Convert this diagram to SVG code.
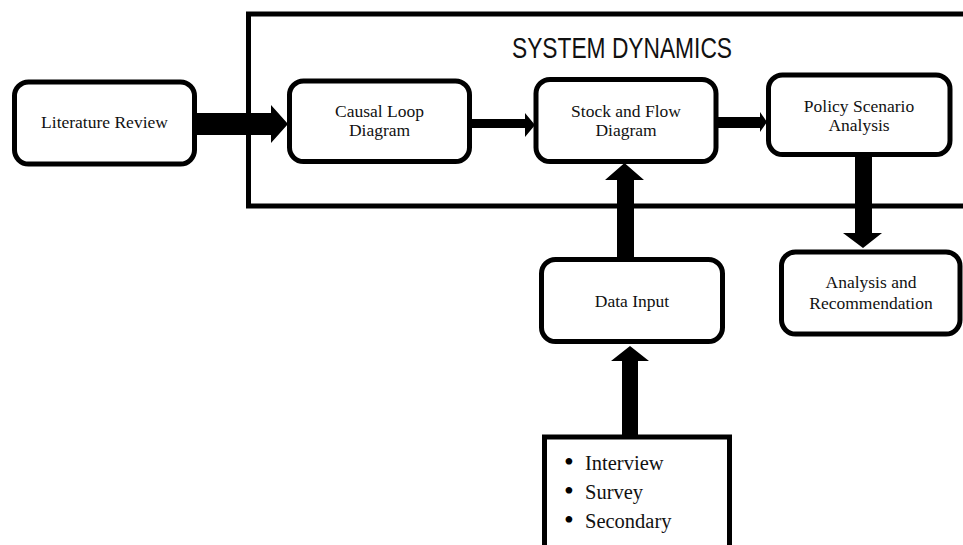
<svg xmlns="http://www.w3.org/2000/svg" width="963" height="545" viewBox="0 0 963 545">
<style>
.box{fill:#fff;stroke:#000;stroke-width:5}
.frame{fill:none;stroke:#000;stroke-width:5}
.arr{fill:#000;stroke:none}
.lbl{font-family:"Liberation Serif","Times New Roman",serif;font-size:17.5px;fill:#111;text-anchor:middle}
.lst{font-family:"Liberation Serif","Times New Roman",serif;font-size:20.5px;fill:#111}
.bul{font-family:"Liberation Serif","Times New Roman",serif;font-size:28px;fill:#000}
.ttl{font-family:"Liberation Sans",Arial,sans-serif;font-size:30px;fill:#111}
</style>
<rect width="963" height="545" fill="#fff"/>
<g id="system-dynamics-frame">
<path class="frame" d="M970 14 H248.5 V206 H970"/>
<text class="ttl" x="512" y="58" textLength="220" lengthAdjust="spacingAndGlyphs">SYSTEM DYNAMICS</text>
</g>
<g id="literature-review">
<rect class="box" x="14.5" y="82" width="180" height="82" rx="14"/>
<text class="lbl" x="104.5" y="128">Literature Review</text>
</g>
<g id="causal-loop-diagram">
<rect class="box" x="289.5" y="81" width="180" height="80.5" rx="14"/>
<text class="lbl" x="379.5" y="117">Causal Loop</text>
<text class="lbl" x="379.5" y="136">Diagram</text>
</g>
<g id="stock-and-flow-diagram">
<rect class="box" x="536" y="79.5" width="180" height="82" rx="14"/>
<text class="lbl" x="626" y="117">Stock and Flow</text>
<text class="lbl" x="626" y="136">Diagram</text>
</g>
<g id="policy-scenario-analysis">
<rect class="box" x="768.5" y="75" width="181.5" height="79.5" rx="14"/>
<text class="lbl" x="859" y="112">Policy Scenario</text>
<text class="lbl" x="859" y="131">Analysis</text>
</g>
<g id="data-input">
<rect class="box" x="541.5" y="259.5" width="181" height="82" rx="14"/>
<text class="lbl" x="632" y="307">Data Input</text>
</g>
<g id="analysis-and-recommendation">
<rect class="box" x="781.5" y="252" width="178.5" height="82" rx="14"/>
<text class="lbl" x="871" y="288">Analysis and</text>
<text class="lbl" x="871" y="309">Recommendation</text>
</g>
<g id="data-sources">
<rect class="box" x="544.5" y="437" width="185" height="130"/>
<text class="bul" x="564" y="471">•</text>
<text class="lst" x="585" y="470">Interview</text>
<text class="bul" x="564" y="500">•</text>
<text class="lst" x="585" y="499">Survey</text>
<text class="bul" x="564" y="529">•</text>
<text class="lst" x="585" y="528">Secondary</text>
</g>
<g id="connectors">
<polygon class="arr" points="197,113 271,113 271,105 288,124 271,143 271,135 197,135"/>
<polygon class="arr" points="472,119 525,119 525,113 535,125 525,137 525,128 472,128"/>
<polygon class="arr" points="718,117 760,117 760,112 767,122 760,132 760,128 718,128"/>
<polygon class="arr" points="617,260 617,180 605,180 624.5,163 644,180 634,180 634,260"/>
<polygon class="arr" points="622,437 622,361 611,361 630,346 649,361 638,361 638,437"/>
<polygon class="arr" points="855,155 872,155 872,233 882,233 863,248 843,233 855,233"/>
</g>
</svg>
